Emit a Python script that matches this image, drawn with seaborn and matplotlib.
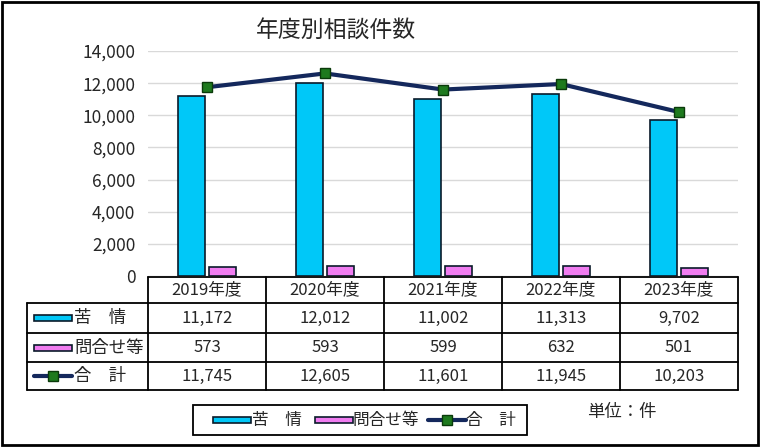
import numpy as np
import pandas as pd

import matplotlib.pyplot as plt
import matplotlib.patches as mpatches
from matplotlib.lines import Line2D
from matplotlib.ticker import FuncFormatter
import seaborn as sns

# data
years = ['2019年度', '2020年度', '2021年度', '2022年度', '2023年度']
kujo = [11172, 12012, 11002, 11313, 9702]
toiawase = [573, 593, 599, 632, 501]
goukei = [11745, 12605, 11601, 11945, 10203]
series_names = ['苦\u3000情', '問合せ等', '合\u3000計']
yticks = [0, 2000, 4000, 6000, 8000, 10000, 12000, 14000]

c_blue = '#00C8F8'
c_pink = '#F07CF0'
c_line = '#14285C'
c_mark = '#1E7A1E'

sns.set_style('white')
plt.rcParams['font.family'] = ['Noto Sans CJK JP', 'DejaVu Sans']

df_bar = pd.DataFrame({
    'year': years * 2,
    'value': kujo + toiawase,
    'kind': [series_names[0]] * 5 + [series_names[1]] * 5,
})
df_line = pd.DataFrame({'year': years, 'value': goukei})

fig = plt.figure(figsize=(7.6, 4.47), dpi=100)
W, H = 760, 447

def fx(px):
    return px / W

def fy(py):
    return 1 - py / H

ax = fig.add_axes([fx(148), fy(276), fx(738) - fx(148), fy(51) - fy(276)])

sns.barplot(data=df_bar, x='year', y='value', hue='kind', palette=[c_blue, c_pink],
            saturation=1, width=0.51, gap=0.1, edgecolor='#0A1A2A', linewidth=1.2,
            ax=ax, legend=False, zorder=3)
ax.plot(range(len(years)), df_line['value'], color=c_line, lw=3, marker='s',
        markersize=7, markerfacecolor=c_mark, markeredgecolor='#0A3A0A',
        markeredgewidth=1, zorder=4)

ax.set_xlim(-0.5, 4.5)
ax.set_ylim(0, 14000)
ax.set_yticks(yticks)
ax.yaxis.set_major_formatter(FuncFormatter(lambda v, p: f'{int(v):,}'))
ax.tick_params(axis='y', labelsize=12.5, length=0, pad=9)
ax.set_xticks([])
ax.set_xlabel('')
ax.set_ylabel('')
ax.grid(axis='y', color='#D9D9D9', lw=1, zorder=0)
for s in ax.spines.values():
    s.set_visible(False)

fig.text(fx(336), fy(30), '年度別相談件数', ha='center', va='center', fontsize=16.5)

# data table below the plot
col_x = [148, 266, 384, 502, 620, 738]
row_y = [277, 303, 333, 362, 390]
left = 27
lk = dict(color='black', lw=1.3, transform=fig.transFigure)
fig.add_artist(Line2D([fx(148), fx(738)], [fy(row_y[0])] * 2, **lk))
for yy in row_y[1:]:
    fig.add_artist(Line2D([fx(left), fx(738)], [fy(yy)] * 2, **lk))
for xx in col_x:
    fig.add_artist(Line2D([fx(xx)] * 2, [fy(row_y[0]), fy(row_y[-1])], **lk))
fig.add_artist(Line2D([fx(left)] * 2, [fy(row_y[1]), fy(row_y[-1])], **lk))

for i, yr in enumerate(years):
    cx = (col_x[i] + col_x[i + 1]) / 2
    fig.text(fx(cx), fy((row_y[0] + row_y[1]) / 2), yr, ha='center', va='center', fontsize=12)
    for r, vals in enumerate([kujo, toiawase, goukei]):
        fig.text(fx(cx), fy((row_y[r + 1] + row_y[r + 2]) / 2), f'{vals[i]:,}',
                 ha='center', va='center', fontsize=12)


def bar_icon(x0, yc, color):
    fig.add_artist(mpatches.Rectangle((fx(x0), fy(yc + 3)), fx(38), 6 / H,
                                      facecolor=color, edgecolor='#0A1A2A', lw=1.2,
                                      transform=fig.transFigure))


def line_icon(x0, yc):
    fig.add_artist(Line2D([fx(x0), fx(x0 + 38)], [fy(yc)] * 2, color=c_line, lw=3,
                          transform=fig.transFigure))
    fig.add_artist(Line2D([fx(x0 + 19)], [fy(yc)], marker='s', markersize=7,
                          markerfacecolor=c_mark, markeredgecolor='#0A3A0A',
                          transform=fig.transFigure))


icons = [lambda x, y: bar_icon(x, y, c_blue), lambda x, y: bar_icon(x, y, c_pink), line_icon]
for r, name in enumerate(series_names):
    yc = (row_y[r + 1] + row_y[r + 2]) / 2
    icons[r](34, yc)
    fig.text(fx(74), fy(yc), name, ha='left', va='center', fontsize=12.5)

# legend at bottom
fig.add_artist(mpatches.Rectangle((fx(193), fy(435)), fx(527) - fx(193), fy(405) - fy(435),
                                  facecolor='white', edgecolor='black', lw=1.3,
                                  transform=fig.transFigure))
leg_y = 420
for x0, tx, k in [(213, 252, 0), (315, 352, 1), (428, 466, 2)]:
    icons[k](x0, leg_y)
    fig.text(fx(tx), fy(leg_y), series_names[k], ha='left', va='center', fontsize=12)

fig.text(fx(622), fy(412), '単位：件', ha='center', va='center', fontsize=12.5)

# outer frame
fig.add_artist(mpatches.Rectangle((fx(1.5), fy(444.5)), fx(756), fy(1.5) - fy(444.5),
                                  facecolor='none', edgecolor='black', lw=2,
                                  transform=fig.transFigure))

plt.savefig('out.png', dpi=100)
